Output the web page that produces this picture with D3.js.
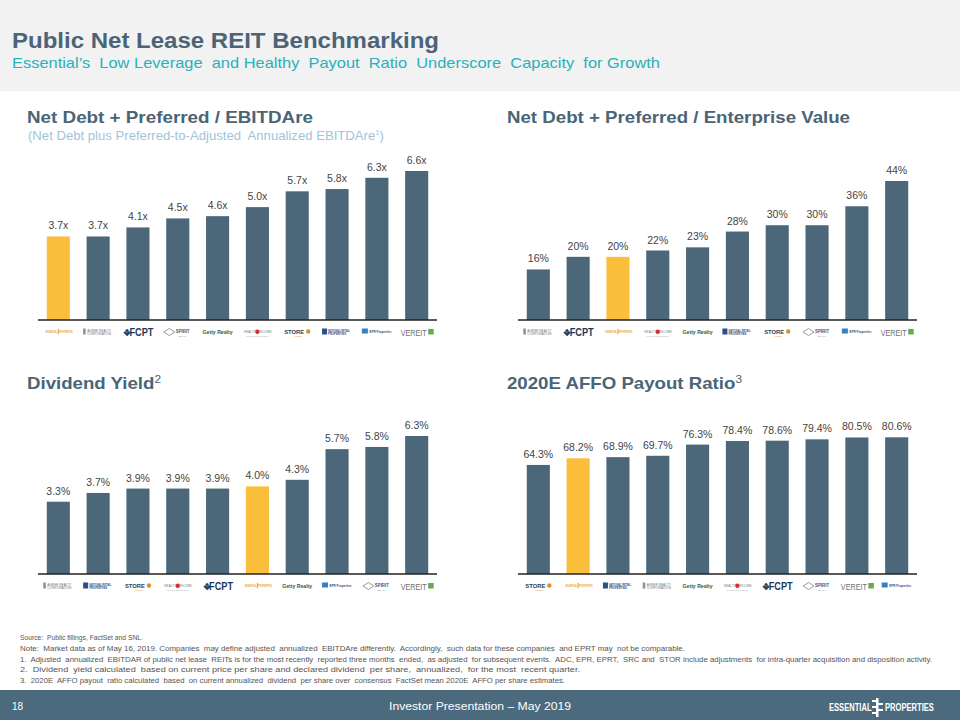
<!DOCTYPE html>
<html>
<head>
<meta charset="utf-8">
<script src="https://cdn.jsdelivr.net/npm/d3@7"></script>
<style>
  html, body { margin: 0; padding: 0; background: #ffffff; }
  svg { display: block; font-family: "Liberation Sans", Arial, sans-serif; }
  text { white-space: pre; }
</style>
</head>
<body>
<svg id="chart" width="960" height="720"></svg>
<script>
// ---------------- DATA ----------------
const highlight = "Essential Properties";

const ebitdaCompanies = ["Essential Properties", "Agree Realty", "FCPT", "Spirit", "Getty Realty",
  "Realty Income", "STORE Capital", "National Retail Properties", "EPR Properties", "VEREIT"];
const ebitdaValues = [3.7, 3.7, 4.1, 4.5, 4.6, 5.0, 5.7, 5.8, 6.3, 6.6];

const evCompanies = ["Agree Realty", "FCPT", "Essential Properties", "Realty Income", "Getty Realty",
  "National Retail Properties", "STORE Capital", "Spirit", "EPR Properties", "VEREIT"];
const evValues = [16, 20, 20, 22, 23, 28, 30, 30, 36, 44];

const yieldCompanies = ["Agree Realty", "National Retail Properties", "STORE Capital", "Realty Income", "FCPT",
  "Essential Properties", "Getty Realty", "EPR Properties", "Spirit", "VEREIT"];
const yieldValues = [3.3, 3.7, 3.9, 3.9, 3.9, 4.0, 4.3, 5.7, 5.8, 6.3];

const payoutCompanies = ["STORE Capital", "Essential Properties", "National Retail Properties", "Agree Realty",
  "Getty Realty", "Realty Income", "FCPT", "Spirit", "VEREIT", "EPR Properties"];
const payoutValues = [64.3, 68.2, 68.9, 69.7, 76.3, 78.4, 78.6, 79.4, 80.5, 80.6];

const footnotes = [
  "Source:  Public fillings, FactSet and SNL.",
  "Note:  Market data as of May 16, 2019. Companies  may define adjusted  annualized  EBITDAre differently.  Accordingly,  such data for these companies  and EPRT may  not be comparable.",
  "1.  Adjusted  annualized  EBITDAR of public net lease  REITs is for the most recently  reported three months  ended,  as adjusted  for subsequent events.  ADC, EPR, EPRT,  SRC and  STOR include adjustments  for intra-quarter acquisition and disposition activity.",
  "2.  Dividend  yield calculated  based on current price per share and declared dividend  per share,  annualized,  for the most  recent quarter.",
  "3.  2020E  AFFO payout  ratio calculated  based  on current annualized  dividend  per share over  consensus  FactSet mean 2020E  AFFO per share estimates."
];

// ---------------- STYLE ----------------
const barColor = "#4b6779";
const hiColor = "#fbbe3b";
const titleColor = "#4b6476";

const svg = d3.select("#chart");

// header band
svg.append("rect").attr("x", 0).attr("y", 0).attr("width", 960).attr("height", 91).attr("fill", "#f2f2f2");
svg.append("text").attr("x", 12).attr("y", 48)
  .attr("font-size", 22.5).attr("font-weight", "bold").attr("fill", titleColor)
  .attr("textLength", 427).attr("lengthAdjust", "spacingAndGlyphs")
  .text("Public Net Lease REIT Benchmarking");
svg.append("text").attr("x", 12).attr("y", 68)
  .attr("font-size", 15).attr("fill", "#2ab0b9")
  .attr("textLength", 648).attr("lengthAdjust", "spacingAndGlyphs")
  .text("Essential\u2019s  Low Leverage  and Healthy  Payout  Ratio  Underscore  Capacity  for Growth");

// footer band
svg.append("rect").attr("x", 0).attr("y", 690).attr("width", 960).attr("height", 30).attr("fill", "#4b6a7e");
svg.append("text").attr("x", 12).attr("y", 710).attr("font-size", 10).attr("fill", "#fff").text("18");
svg.append("text").attr("x", 480).attr("y", 710).attr("font-size", 11).attr("fill", "#fff")
  .attr("text-anchor", "middle").attr("textLength", 182).attr("lengthAdjust", "spacingAndGlyphs")
  .text("Investor Presentation \u2013 May 2019");
// footer logo (horizontally condensed via transform)
const fl1 = svg.append("g").attr("transform", "translate(829,711) scale(0.66,1)");
fl1.append("text").attr("x", 0).attr("y", 0).attr("font-size", 11.5).attr("font-weight", "bold")
  .attr("fill", "#fff").text("ESSENTIAL");
const fl2 = svg.append("g").attr("transform", "translate(885,711) scale(0.66,1)");
fl2.append("text").attr("x", 0).attr("y", 0).attr("font-size", 11.5).attr("font-weight", "bold")
  .attr("fill", "#fff").text("PROPERTIES");
const lg = svg.append("g").attr("fill", "#fff");
lg.append("rect").attr("x", 876).attr("y", 698).attr("width", 2.5).attr("height", 19);
[[872, 700, 6], [877, 703, 6], [872, 706, 6], [877, 709, 6], [872, 712, 6]].forEach(r =>
  lg.append("rect").attr("x", r[0]).attr("y", r[1]).attr("width", r[2]).attr("height", 2));

// footnotes
const fnY = [640, 651, 662, 672, 683];
const fnLen = [123, 665, 912, 560, 545];
footnotes.forEach((t, i) => {
  svg.append("text").attr("x", 20).attr("y", fnY[i]).attr("font-size", 7.3).attr("fill", "#555")
    .attr("textLength", fnLen[i]).attr("lengthAdjust", "spacingAndGlyphs").text(t);
});

// ---------------- LOGO PLACEHOLDERS ----------------
function drawLogo(g, name, cx, y) {
  const t = g.append("g").attr("transform", `translate(${cx},${y})`);
  const txt = (s, x, yy, size, color, weight, anchor, len) => {
    const e = t.append("text")
      .attr("x", x).attr("y", yy).attr("font-size", size).attr("fill", color)
      .attr("font-weight", weight || "normal").attr("text-anchor", anchor || "middle").text(s);
    if (len) e.attr("textLength", len).attr("lengthAdjust", "spacingAndGlyphs");
    return e;
  };
  switch (name) {
    case "Essential Properties": {
      const s = t.append("g").attr("transform", "scale(0.62,1)");
      s.append("text").attr("x", -1.5).attr("y", 1.3).attr("font-size", 3.4).attr("font-weight", "bold")
        .attr("fill", "#e9a440").attr("text-anchor", "end").text("ESSENTIAL");
      s.append("text").attr("x", 1.5).attr("y", 1.3).attr("font-size", 3.4).attr("font-weight", "bold")
        .attr("fill", "#e9a440").attr("text-anchor", "start").text("PROPERTIES");
      t.append("rect").attr("x", -0.6).attr("y", -3.2).attr("width", 1.2).attr("height", 5.5).attr("fill", "#e9a440");
      break;
    }
    case "Agree Realty":
      t.append("rect").attr("x", -15).attr("y", -3.5).attr("width", 2.5).attr("height", 6).attr("fill", "#8a8f97");
      txt("AGREE REALTY", 1, -0.5, 3.6, "#6b6f78", "normal", "middle", 24);
      txt("CORPORATION", 1, 3, 3.6, "#6b6f78", "normal", "middle", 24);
      break;
    case "FCPT":
      txt("\u2756", -11, 3.5, 8.5, "#27405a", "bold");
      txt("FCPT", 3.5, 4, 10.5, "#1f3855", "bold", "middle", 24);
      break;
    case "Spirit":
      t.append("path").attr("d", "M-14,0 L-8.5,-3.5 L-3,0 L-8.5,3.5 Z").attr("fill", "none").attr("stroke", "#8d9399").attr("stroke-width", 0.9);
      txt("SPIRIT", 5, 1.3, 4.5, "#4d5560", "bold", "middle", 14);
      txt("REALTY", 5, 4.8, 2.3, "#999");
      break;
    case "Getty Realty":
      txt("Getty Realty", 0, 2, 5, "#3a5a46", "bold", "middle", 30);
      break;
    case "Realty Income":
      txt("REALTY", -7.5, 1, 3.6, "#7a7a7a", "normal", "middle", 12);
      t.append("circle").attr("cx", 0).attr("cy", -0.3).attr("r", 2.2).attr("fill", "#d62e2e");
      txt("INCOME", 8, 1, 3.6, "#7a7a7a", "normal", "middle", 12);
      txt("The Monthly Dividend Company", 0, 4.5, 2.2, "#999", "normal", "middle", 22);
      break;
    case "STORE Capital":
      txt("STORE", -3, 1.5, 5, "#2c3f5d", "bold", "middle", 20);
      txt("capital", 1, 5, 2.4, "#e48d2f");
      t.append("circle").attr("cx", 11).attr("cy", -0.5).attr("r", 2.2).attr("fill", "#e48d2f");
      break;
    case "National Retail Properties":
      t.append("rect").attr("x", -15).attr("y", -3.5).attr("width", 5).attr("height", 6).attr("fill", "#2c4f86");
      txt("NATIONAL RETAIL", 2, -0.5, 3, "#2c4f86", "bold", "middle", 22);
      txt("PROPERTIES", 0, 3, 3, "#2c4f86", "bold", "middle", 18);
      break;
    case "EPR Properties":
      t.append("rect").attr("x", -15).attr("y", -3.5).attr("width", 6).attr("height", 5).attr("fill", "#3a7fc4");
      txt("EPR Properties", -7.5, 1, 3.5, "#2c4f86", "bold", "start", 22);
      break;
    case "VEREIT":
      txt("VEREIT", -3, 3.5, 9, "#6b7079", "normal", "middle", 26);
      t.append("rect").attr("x", 11.5).attr("y", -3).attr("width", 5.5).attr("height", 5.5).attr("fill", "#6aa84f");
      break;
  }
}

// ---------------- CHART FUNCTION ----------------
function drawChart(opts) {
  const g = svg.append("g");
  const x = d3.scaleBand().domain(opts.companies).range([opts.x0, opts.x1])
    .paddingInner(0.42).paddingOuter(0.22);
  const y = d3.scaleLinear().domain([0, opts.yMax]).range([opts.base, opts.base - opts.hMax]);

  g.selectAll("rect.bar").data(opts.values).enter().append("rect")
    .attr("class", "bar")
    .attr("x", (d, i) => x(opts.companies[i]))
    .attr("width", x.bandwidth())
    .attr("y", d => y(d))
    .attr("height", d => y(0) - y(d))
    .attr("fill", (d, i) => opts.companies[i] === highlight ? hiColor : barColor);

  g.selectAll("text.lbl").data(opts.values).enter().append("text")
    .attr("class", "lbl")
    .attr("x", (d, i) => x(opts.companies[i]) + x.bandwidth() / 2)
    .attr("y", d => y(d) - 7)
    .attr("text-anchor", "middle")
    .attr("font-size", 10.5).attr("fill", "#444")
    .text(opts.fmt);

  const axis = d3.axisBottom(x).tickSize(0).tickFormat("");
  const ag = g.append("g").attr("transform", `translate(0,${opts.base})`).call(axis);
  ag.select(".domain").attr("stroke", "#222").attr("stroke-width", 1.5)
    .attr("d", `M${opts.x0},0H${opts.x1}`);

  opts.companies.forEach(c => drawLogo(g, c, x(c) + x.bandwidth() / 2, opts.base + 12));

  // title
  const tt = g.append("text").attr("x", opts.tx).attr("y", opts.ty)
    .attr("font-size", 16.5).attr("font-weight", "bold").attr("fill", titleColor)
    .attr("textLength", opts.tLen).attr("lengthAdjust", "spacingAndGlyphs");
  tt.append("tspan").text(opts.title);
  if (opts.sup) tt.append("tspan").attr("font-size", 10.5).attr("font-weight", "normal").attr("dy", -6).text(opts.sup);

  if (opts.subtitle) {
    const st = g.append("text").attr("x", opts.tx + 1).attr("y", opts.ty + 17)
      .attr("font-size", 12.5).attr("fill", "#a0c4d8")
      .attr("textLength", 356).attr("lengthAdjust", "spacingAndGlyphs");
    st.append("tspan").text("(Net Debt plus Preferred-to-Adjusted  Annualized EBITDAre");
    st.append("tspan").attr("font-size", 7.5).attr("dy", -5).text("1");
    st.append("tspan").attr("dy", 5).text(")");
  }
}

drawChart({
  companies: ebitdaCompanies, values: ebitdaValues, x0: 38, x1: 437, base: 320,
  yMax: 6.6, hMax: 149, fmt: d => d.toFixed(1) + "x",
  title: "Net Debt + Preferred / EBITDAre", tx: 27, ty: 123, tLen: 286, subtitle: true
});
drawChart({
  companies: evCompanies, values: evValues, x0: 518, x1: 917, base: 320,
  yMax: 44, hMax: 139, fmt: d => d + "%",
  title: "Net Debt + Preferred / Enterprise Value", tx: 507, ty: 123, tLen: 343
});
drawChart({
  companies: yieldCompanies, values: yieldValues, x0: 38, x1: 437, base: 574,
  yMax: 6.3, hMax: 138, fmt: d => d.toFixed(1) + "%",
  title: "Dividend Yield", sup: "2", tx: 27, ty: 389, tLen: 134
});
drawChart({
  companies: payoutCompanies, values: payoutValues, x0: 518, x1: 917, base: 574,
  yMax: 80.6, hMax: 136.7, fmt: d => d.toFixed(1) + "%",
  title: "2020E AFFO Payout Ratio", sup: "3", tx: 507, ty: 389, tLen: 235
});
</script>
</body>
</html>
